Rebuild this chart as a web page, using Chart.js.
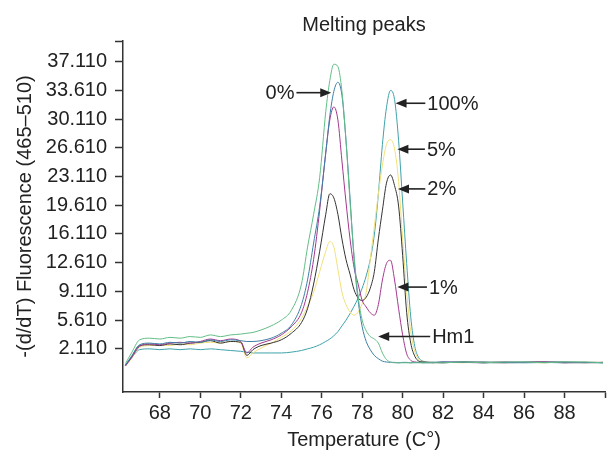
<!DOCTYPE html>
<html>
<head>
<meta charset="utf-8">
<script src="https://cdn.jsdelivr.net/npm/chart.js@4.4.1/dist/chart.umd.min.js"></script>
<style>
  html, body { margin: 0; padding: 0; background: #fff; }
</style>
</head>
<body>
<canvas id="meltChart" width="608" height="459"></canvas>
<script>
// temperatures (C) shared by every curve
const temps = [
  66.3, 66.6, 67.0, 67.5, 68.0, 68.5, 69.0, 69.5, 70.0, 70.5,
  71.0, 71.5, 72.0, 72.3, 72.6, 73.0, 73.5, 74.0, 74.5, 75.0,
  75.3, 75.6, 75.9, 76.2, 76.4, 76.6, 76.8, 77.0, 77.2, 77.4,
  77.6, 77.8, 78.0, 78.2, 78.4, 78.6, 78.8, 79.0, 79.2, 79.4,
  79.6, 79.8, 80.0, 80.2, 80.4, 80.6, 80.8, 81.0, 81.5, 82.0,
  83.0, 84.0, 85.0, 86.0, 87.0, 88.0, 89.0, 89.9
];

// -(d/dT) fluorescence, one array per sample
const hm1 = [
  0.3, 1.6, 3.2, 3.4, 3.3, 3.5, 3.4, 3.6, 3.5, 3.8,
  3.6, 3.8, 3.9, 4.0, 4.1, 4.4, 4.9, 5.6, 6.8, 10.0,
  14.5, 18.5, 23.0, 31.0, 34.8, 36.8, 36.5, 33.5, 27.5, 20.0,
  13.5, 8.5, 5.6, 4.3, 3.6, 3.3, 2.8, 1.6, 0.8, 0.5,
  0.4, 0.4, 0.4, 0.4, 0.4, 0.4, 0.4, 0.4, 0.4, 0.4,
  0.5, 0.4, 0.5, 0.5, 0.4, 0.5, 0.5, 0.4
];
const pct0 = [
  0.1, 1.2, 2.6, 2.8, 2.7, 2.9, 2.8, 3.0, 2.9, 3.2,
  3.0, 3.2, 3.1, 3.0, 3.0, 3.1, 3.4, 4.0, 5.0, 7.5,
  10.5, 15.0, 19.5, 26.0, 30.5, 33.5, 34.6, 33.0, 27.5, 20.5,
  13.0, 8.0, 4.8, 3.0, 2.0, 1.3, 0.9, 0.6, 0.5, 0.45,
  0.45, 0.4, 0.45, 0.45, 0.4, 0.45, 0.45, 0.4, 0.45, 0.5,
  0.45, 0.5, 0.45, 0.4, 0.45, 0.5, 0.45, 0.4
];
const pct1 = [
  0.0, 1.0, 2.4, 2.7, 2.6, 2.8, 2.9, 2.8, 3.0, 3.3,
  3.1, 3.3, 3.0, 1.6, 2.3, 2.8, 3.2, 3.8, 4.8, 6.5,
  9.0, 13.0, 19.0, 26.0, 30.0, 31.6, 30.0, 25.0, 20.0, 15.5,
  12.0, 10.0, 8.0, 7.2, 6.5, 6.2, 7.5, 10.5, 12.5, 12.9,
  10.5, 7.0, 3.8, 1.5, 0.7, 0.5, 0.45, 0.45, 0.4, 0.5,
  0.45, 0.4, 0.5, 0.45, 0.5, 0.4, 0.45, 0.45
];
const pct2 = [
  0.1, 1.1, 2.5, 2.6, 2.5, 2.7, 2.6, 2.8, 2.9, 3.1,
  2.8, 3.0, 2.9, 1.3, 2.0, 2.5, 2.8, 3.2, 4.0, 5.3,
  7.0, 10.0, 14.0, 18.5, 21.0, 20.5, 18.5, 15.5, 13.0, 11.2,
  9.3, 8.3, 8.0, 8.4, 9.5, 11.5, 15.5, 19.0, 22.3, 23.3,
  22.0, 19.5, 13.5, 6.5, 2.8, 1.2, 0.6, 0.5, 0.45, 0.4,
  0.5, 0.45, 0.4, 0.45, 0.5, 0.45, 0.4, 0.45
];
const pct5 = [
  0.0, 0.9, 2.3, 2.5, 2.6, 2.5, 2.7, 2.6, 2.8, 2.9,
  2.8, 3.0, 2.8, 1.0, 1.6, 2.2, 2.8, 3.5, 4.3, 5.8,
  7.3, 9.0, 11.5, 14.0, 15.2, 14.5, 11.8, 9.0, 7.5, 6.6,
  6.2, 6.6, 7.6, 9.0, 13.0, 17.0, 21.0, 24.5, 27.0, 27.6,
  26.5, 22.5, 15.5, 9.0, 4.2, 1.8, 0.8, 0.5, 0.45, 0.45,
  0.4, 0.5, 0.45, 0.45, 0.4, 0.5, 0.45, 0.45
];
const pct100 = [
  0.1, 1.0, 2.0, 2.1, 2.0, 2.1, 2.0, 2.1, 2.0, 2.1,
  2.0, 1.9, 1.8, 1.7, 1.6, 1.6, 1.6, 1.6, 1.7, 1.9,
  2.1, 2.3, 2.6, 3.0, 3.3, 3.7, 4.2, 4.9, 5.6, 6.4,
  7.3, 8.3, 9.5, 11.0, 13.0, 16.0, 21.0, 27.0, 31.5, 33.6,
  32.5, 27.5, 20.0, 12.5, 6.0, 2.4, 1.0, 0.6, 0.45, 0.45,
  0.5, 0.4, 0.45, 0.5, 0.45, 0.4, 0.45, 0.4
];

const seriesNames = ['Hm1', '0%', '1%', '2%', '5%', '100%'];
const seriesValues = [hm1, pct0, pct1, pct2, pct5, pct100];
const seriesColors = ['#63bd86', '#3d7fa6', '#a3378f', '#333333', '#f1e07a', '#3ea2aa'];

// axis ticks
const xTicks = [68, 70, 72, 74, 76, 78, 80, 82, 84, 86, 88, 90];
const xTickLabels = ['68', '70', '72', '74', '76', '78', '80', '82', '84', '86', '88', ''];
const yTicks = [2.11, 5.61, 9.11, 12.61, 16.11, 19.61, 23.11, 26.61, 30.11, 33.61, 37.11, 39.63];
const yTickLabels = ['2.110', '5.610', '9.110', '12.610', '16.110', '19.610', '23.110',
  '26.610', '30.110', '33.610', '37.110', ''];

// arrow callouts (tip at the curve, tail where the text starts)
const arrowLabels = ['0%', '100%', '5%', '2%', '1%', 'Hm1'];
const arrowTipT = [76.47, 79.65, 79.74, 79.77, 79.74, 78.79];
const arrowTipV = [33.33, 32.04, 26.44, 21.6, 9.63, 3.61];
const arrowTailT = [74.75, 81.12, 81.1, 81.12, 81.2, 81.36];

const fontFamily = '"Liberation Sans", Arial, Helvetica, sans-serif';

const arrowPlugin = {
  id: 'arrows',
  afterDatasetsDraw(chart) {
    const { ctx } = chart;
    const x = chart.scales.x, y = chart.scales.y;
    ctx.save();
    ctx.strokeStyle = '#222';
    ctx.fillStyle = '#222';
    ctx.lineWidth = 1.6;
    ctx.font = '20px ' + fontFamily;
    ctx.textBaseline = 'middle';
    arrowLabels.forEach((label, i) => {
      const tipX = x.getPixelForValue(arrowTipT[i]);
      const tipY = y.getPixelForValue(arrowTipV[i]);
      const tailX = x.getPixelForValue(arrowTailT[i]);
      const dir = tailX > tipX ? 1 : -1;
      ctx.beginPath();
      ctx.moveTo(tailX, tipY);
      ctx.lineTo(tipX + dir * 9, tipY);
      ctx.stroke();
      ctx.beginPath();
      ctx.moveTo(tipX, tipY);
      ctx.lineTo(tipX + dir * 11, tipY - 4.5);
      ctx.lineTo(tipX + dir * 11, tipY + 4.5);
      ctx.closePath();
      ctx.fill();
      ctx.textAlign = dir > 0 ? 'left' : 'right';
      ctx.fillText(label, tailX + dir * 2, tipY + 1);
    });
    ctx.restore();
  }
};

new Chart(document.getElementById('meltChart'), {
  type: 'line',
  data: {
    datasets: seriesNames.map((name, i) => ({
      label: name,
      data: temps.map((t, j) => ({ x: t, y: seriesValues[i][j] })),
      borderColor: seriesColors[i],
      borderWidth: 1,
      pointRadius: 0,
      fill: false,
      cubicInterpolationMode: 'monotone'
    }))
  },
  options: {
    responsive: false,
    devicePixelRatio: 1,
    animation: false,
    layout: { padding: 0 },
    plugins: {
      legend: { display: false },
      tooltip: { enabled: false },
      title: {
        display: true,
        fullSize: false,
        text: 'Melting peaks',
        color: '#222',
        font: { family: fontFamily, size: 20, weight: 'normal' },
        padding: { top: 13, bottom: 4 }
      }
    },
    scales: {
      x: {
        type: 'linear',
        min: 66.18,
        max: 90,
        afterBuildTicks: (scale) => { scale.ticks = xTicks.map(v => ({ value: v })); },
        afterFit: (scale) => { scale.height = 67; },
        ticks: {
          callback: (value, index) => xTickLabels[index],
          color: '#222',
          font: { family: fontFamily, size: 20 },
          padding: 3,
          maxRotation: 0,
          autoSkip: false
        },
        grid: { drawOnChartArea: false, drawTicks: true, tickLength: 6, tickColor: '#333', tickWidth: 1.5 },
        border: { display: true, color: '#333', width: 1.5 },
        title: {
          display: true,
          text: 'Temperature (C°)',
          color: '#222',
          font: { family: fontFamily, size: 20 },
          padding: { top: 0, bottom: 7 }
        }
      },
      y: {
        type: 'linear',
        min: -3.16,
        max: 39.63,
        afterBuildTicks: (scale) => { scale.ticks = yTicks.map(v => ({ value: v })); },
        afterFit: (scale) => { scale.width = 123; },
        ticks: {
          callback: (value, index) => yTickLabels[index],
          color: '#222',
          font: { family: fontFamily, size: 20 },
          padding: 8,
          autoSkip: false
        },
        grid: { drawOnChartArea: false, drawTicks: true, tickLength: 8, tickColor: '#333', tickWidth: 1.5 },
        border: { display: true, color: '#333', width: 1.5 },
        title: {
          display: true,
          text: '-(d/dT) Fluorescence (465\u2013510)',
          color: '#222',
          font: { family: fontFamily, size: 20 },
          padding: { top: 13, bottom: 0 }
        }
      }
    }
  },
  plugins: [arrowPlugin]
});
</script>
</body>
</html>
